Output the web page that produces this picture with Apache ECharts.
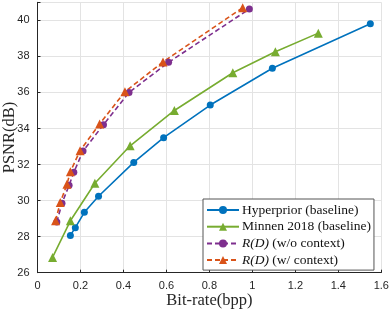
<!DOCTYPE html>
<html><head><meta charset="utf-8">
<script src="https://cdn.jsdelivr.net/npm/echarts@6/dist/echarts.min.js"></script>
<style>html,body{margin:0;padding:0;background:#fff}#c{width:389px;height:310px}</style>
</head><body><div id="c"></div>
<script>
const xTicks = [0, 0.2, 0.4, 0.6, 0.8, 1, 1.2, 1.4, 1.6];
const yTicks = [26, 28, 30, 32, 34, 36, 38, 40];
const hyperprior = [[0.153,28.07],[0.176,28.5],[0.218,29.35],[0.284,30.24],[0.448,32.12],[0.587,33.49],[0.804,35.3],[1.093,37.34],[1.549,39.81]];
const minnen = [[0.070,26.85],[0.153,28.88],[0.267,30.96],[0.431,33.04],[0.637,35.0],[0.909,37.09],[1.107,38.26],[1.307,39.29]];
const rdNoCtx = [[0.090,28.81],[0.114,29.85],[0.147,30.85],[0.169,31.57],[0.212,32.75],[0.307,34.21],[0.426,36.0],[0.610,37.67],[0.986,40.63]];
const rdCtx = [[0.084,28.88],[0.106,29.9],[0.137,30.9],[0.153,31.6],[0.198,32.77],[0.289,34.25],[0.407,36.04],[0.584,37.69],[0.955,40.7]];
const names = ['Hyperprior (baseline)','Minnen 2018 (baseline)','R(D) (w/o context)','R(D) (w/ context)'];

const chart = echarts.init(document.getElementById('c'));
const axisCommon = {
  axisLine:{show:true,lineStyle:{color:'#262626',width:1}},
  axisTick:{show:true,inside:true,length:3,lineStyle:{color:'#262626'}},
  splitLine:{show:true,lineStyle:{color:'#e3e3e3',width:1}},
  axisLabel:{color:'#262626',fontFamily:'Liberation Sans',fontSize:11},
  nameMoveOverlap:false,
  nameTextStyle:{color:'#262626',fontFamily:'Liberation Serif',fontSize:16.5}
};
function mk(name,data,color,symbol,size,dashed){
  return {name:name,type:'line',data:data,symbol:symbol,symbolSize:size,
    lineStyle:{color:color,width:1.6,type:dashed?[5,3]:'solid'},
    itemStyle:{color:color},showSymbol:true,animation:false};
}
chart.setOption({
  animation:false,
  grid:{left:37.5,right:7.7,top:2.3,bottom:37.3,containLabel:false,outerBoundsMode:'none'},
  xAxis:Object.assign({},axisCommon,{type:'value',min:0,max:1.6,interval:0.2,name:'Bit-rate(bpp)',nameLocation:'middle',nameGap:19,
    axisLabel:Object.assign({},axisCommon.axisLabel,{margin:8,formatter:v=>String(+v.toFixed(1))})}),
  yAxis:Object.assign({},axisCommon,{type:'value',min:26,max:41,interval:2,name:'PSNR(dB)',nameLocation:'middle',nameGap:19,
    axisLabel:Object.assign({},axisCommon.axisLabel,{margin:8,formatter:v=>yTicks.indexOf(v)>=0?String(v):''})}),
  legend:{orient:'vertical',left:203,top:199,itemWidth:32,itemHeight:10,itemGap:2.7,
    padding:[4,3,3,3],backgroundColor:'#fff',borderColor:'#555',borderWidth:1,borderRadius:0,
    textStyle:{fontFamily:'Liberation Serif',fontSize:13.5,lineHeight:13,color:'#111',padding:[0,0,0,-2],
      rich:{i:{fontFamily:'Liberation Serif',fontStyle:'italic',fontSize:13.5,lineHeight:13,color:'#111'}}},
    formatter:function(n){return n.indexOf('R(D)')===0?'{i|R(D)}'+n.slice(4):n;},
    data:names},
  series:[
    mk(names[0],hyperprior,'#0072BD','circle',7,false),
    mk(names[1],minnen,'#77AC30','triangle',9,false),
    mk(names[2],rdNoCtx,'#7E2F8E','circle',7,true),
    mk(names[3],rdCtx,'#D95319','triangle',9,true)
  ]
});
</script></body></html>
